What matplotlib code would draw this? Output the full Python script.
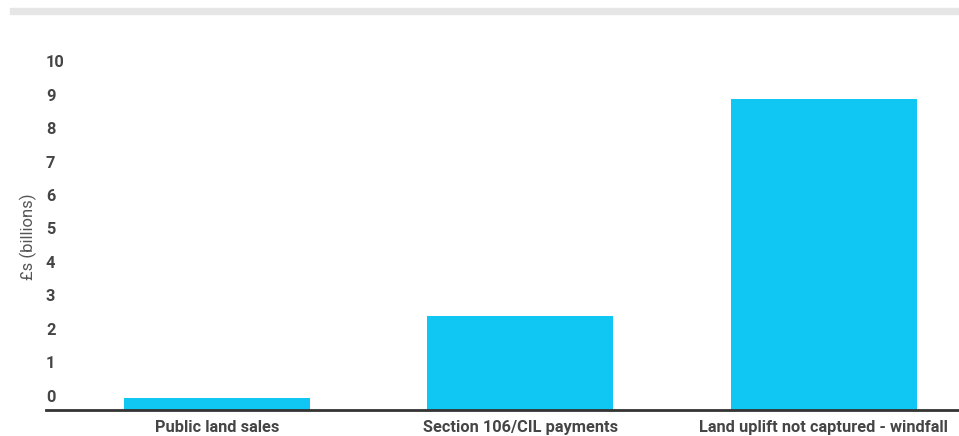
import matplotlib
matplotlib.use("Agg")
import matplotlib.pyplot as plt
from matplotlib.patches import Rectangle
from matplotlib.transforms import ScaledTranslation, blended_transform_factory

plt.rcParams['font.family'] = ['Roboto', 'DejaVu Sans']

# Values in £ billions
categories = ['Public land sales', 'Section 106/CIL payments',
              'Land uplift not captured - windfall']
values = [0.35, 2.8, 9.3]
yticks = list(range(0, 11))

bar_color = '#10c6f3'
text_color = '#454545'

fig = plt.figure(figsize=(9.59, 4.36), dpi=100)
# thin grey strip across the top
fig.patches.append(Rectangle((10 / 959, 1 - 14 / 436), 1, 6 / 436,
                             transform=fig.transFigure, color='#e6e6e6', zorder=0))

ax = fig.add_axes([46 / 959, 26 / 436, 913 / 959, (410 - 62.6) / 436])
x = list(range(len(categories)))
ax.bar(x, values, width=0.613, color=bar_color, zorder=2)

ax.set_xlim(-0.563, 2.445)
ax.set_ylim(0, 10.4)

for s in ['top', 'right', 'left']:
    ax.spines[s].set_visible(False)
ax.spines['bottom'].set_color('#333333')
ax.spines['bottom'].set_linewidth(2)
ax.spines['bottom'].set_zorder(3)

ax.set_xticks(x)
ax.set_xticklabels(categories, fontsize=11.8, color=text_color, fontweight='semibold')
ax.tick_params(axis='x', length=0, pad=7)

# y labels sit a little above their value
ax.set_yticks([])
trans = blended_transform_factory(ax.transAxes, ax.transData) + \
    ScaledTranslation(0, 13 / 100, fig.dpi_scale_trans)
for v in yticks:
    ax.text(0, v, str(v), transform=trans, ha='left', va='center',
            fontsize=11.8, color=text_color, fontweight='semibold')

ax.set_ylabel('£s (billions)', fontsize=12, color='#555555')
ax.yaxis.set_label_coords(-0.01, 0.5)

fig.savefig('out.png', dpi=100)
